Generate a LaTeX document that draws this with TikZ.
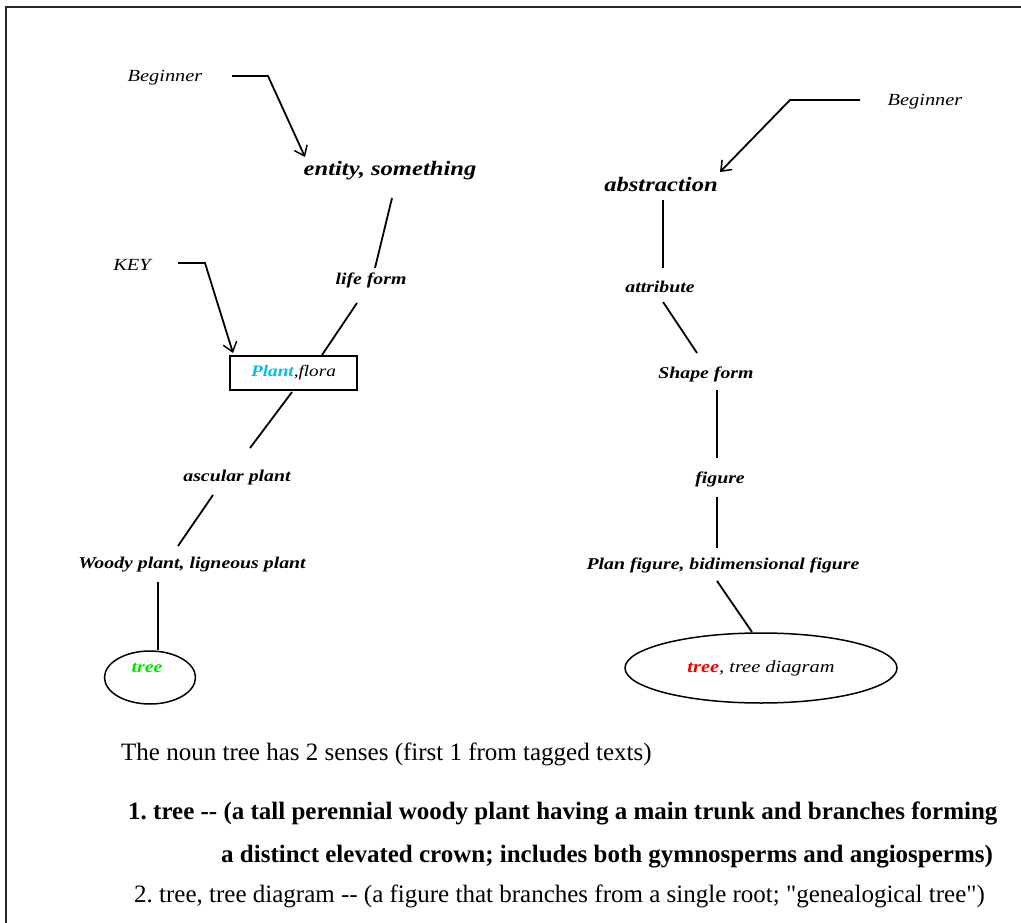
\documentclass[tikz,border=0pt]{standalone}
\usepackage{fontspec}
\setmainfont{Liberation Serif}
\newfontfamily\labelfont{Liberation Serif}[FakeStretch=1.2]
\usetikzlibrary{arrows.meta,calc,shapes.geometric}
\definecolor{plantcyan}{RGB}{0,190,240}
\definecolor{treegreen}{RGB}{0,230,0}
\definecolor{treered}{RGB}{240,0,0}
\frenchspacing
\begin{document}
\begin{tikzpicture}[x=1pt,y=-1pt,
  lbl/.style={font=\labelfont\fontsize{16.5}{18}\selectfont\bfseries\itshape, inner sep=0},
  big/.style={font=\labelfont\fontsize{20.5}{24}\selectfont\bfseries\itshape, inner sep=0},
  note/.style={font=\labelfont\fontsize{17}{20}\selectfont\itshape, inner sep=0},
  link/.style={line width=1.8pt},
  pointer/.style={line width=1.8pt, -{Straight Barb[length=9pt,width=14pt,line width=1.5pt]}},
  body/.style={font=\fontsize{25}{28}\selectfont, anchor=west, inner sep=0}]
\useasboundingbox (0,0) rectangle (1021,923);
\fill[white] (0,0) rectangle (1021,923);
% frame
\draw[line width=2.2pt, black!85] (6,923) -- (6,7) -- (1021,7);

% left tree
\node[note] (beg1) at (165,78) {Beginner};
\node[big] (entity) at (390,171) {entity, something};
\node[lbl] (life) at (371,280) {life form};
\node[note] (key) at (132,265) {KEY};
\node[draw, line width=1.5pt, minimum width=127pt, minimum height=34pt, inner sep=0,
      font=\labelfont\fontsize{16}{18}\selectfont\itshape] (plant) at (293.5,373)
      {\textcolor{plantcyan}{\bfseries Plant},flora};
\node[lbl] (ascular) at (237,478) {ascular plant};
\node[lbl] (woody) at (192,565) {Woody plant, ligneous plant};
\node[draw, ellipse, line width=1.5pt, minimum width=91pt, minimum height=53pt, inner sep=0] (tree1) at (150,677.5) {};
\node[lbl, text=treegreen] (tree1t) at (147,668) {tree};

\draw[link] ($(entity)+(2,27)$) -- ($(life)+(4,-12)$);
\draw[link] ($(life)+(-14,23)$) -- ($(plant)+(28.5,-18)$);
\draw[link] ($(plant)+(-1.5,19)$) -- ($(ascular)+(13,-30)$);
\draw[link] ($(ascular)+(-24,17)$) -- ($(woody)+(-14,-19)$);
\draw[link] ($(woody)+(-34,17)$) -- (tree1.north -| 158,0);

\draw[pointer] ($(beg1)+(67,-2)$) -- ++(36,0) -- ($(entity)+(-85,-14)$);
\draw[pointer] ($(key)+(46,-2)$) -- ++(27,0) -- ($(plant)+(-60.5,-20)$);

% right tree
\node[note] (beg2) at (925,102) {Beginner};
\node[big] (abstr) at (661,185) {abstraction};
\node[lbl] (attr) at (660,287) {attribute};
\node[lbl] (shape) at (706,374) {Shape form};
\node[lbl] (figure) at (720,479) {figure};
\node[lbl] (plan) at (723,565) {Plan figure, bidimensional figure};
\node[draw, ellipse, line width=1.5pt, minimum width=272pt, minimum height=70pt, inner sep=0,
      font=\labelfont\fontsize{17}{18}\selectfont\itshape] (tree2) at (761,668)
      {\textcolor{treered}{\bfseries tree}, tree diagram};

\draw[link] ($(abstr)+(2,15)$) -- ($(attr)+(3,-19)$);
\draw[link] ($(attr)+(3,15)$) -- ($(shape)+(-9,-21)$);
\draw[link] ($(shape)+(11,16)$) -- ($(figure)+(-3,-21)$);
\draw[link] ($(figure)+(-3,18)$) -- ($(plan)+(-6,-17)$);
\draw[link] ($(plan)+(-6,16)$) -- ($(tree2)+(-9,-36)$);

\draw[pointer] ($(beg2)+(-65,-2)$) -- ++(-70,0) -- ($(abstr)+(59,-13)$);

% text below
\node[body] (sense) at (121,754) {The noun tree has 2 senses (first 1 from tagged texts)};
\node[body, font=\fontsize{25}{28}\selectfont\bfseries] (s1a) at (128,813) {1. tree {-}{-} (a tall perennial woody plant having a main trunk and branches forming};
\node[body, font=\fontsize{25}{28}\selectfont\bfseries] (s1b) at (221,857) {a distinct elevated crown; includes both gymnosperms and angiosperms)};
\node[body] (s2) at (134,896) {2. tree, tree diagram {-}{-} (a figure that branches from a single root; \textquotedbl genealogical tree\textquotedbl)};
\end{tikzpicture}
\end{document}
